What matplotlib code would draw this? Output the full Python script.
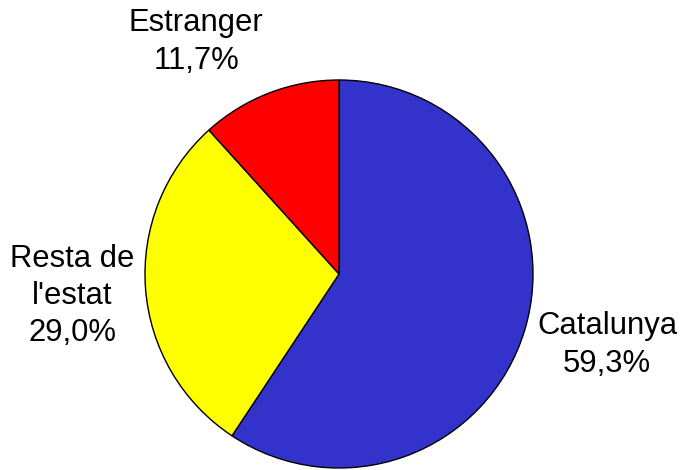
import matplotlib
matplotlib.use("Agg")
import matplotlib.pyplot as plt

# data
names = ["Catalunya", "Resta de\nl'estat", "Estranger"]
shares = [59.3, 29.0, 11.7]
colors = ["#3333CC", "#FFFF00", "#FF0000"]
# label block centres in pixels (x from left, y from top)
label_pos = [(607, 345), (72, 296), (196, 42)]

plt.rcParams["font.family"] = ["Liberation Sans", "DejaVu Sans"]

W, H = 684, 470
fig = plt.figure(figsize=(W / 100, H / 100), dpi=100)

# pie centre (339, 274) px from top, radius 194 px
cx, cy, r = 339, 274, 194
ax = fig.add_axes([(cx - r) / W, (H - cy - r) / H, 2 * r / W, 2 * r / H])
ax.pie(shares, colors=colors, startangle=90, counterclock=False,
       wedgeprops=dict(edgecolor="black", linewidth=1.0))
ax.set_xlim(-1, 1)
ax.set_ylim(-1, 1)
ax.axis("off")

for name, val, (px, py) in zip(names, shares, label_pos):
    txt = f"{name}\n{val:.1f}%".replace(".", ",")
    fig.text(px / W, 1 - py / H, txt, ha="center", va="center",
             fontsize=22.3, linespacing=1.32, color="black")

fig.savefig("out.png", dpi=100)
